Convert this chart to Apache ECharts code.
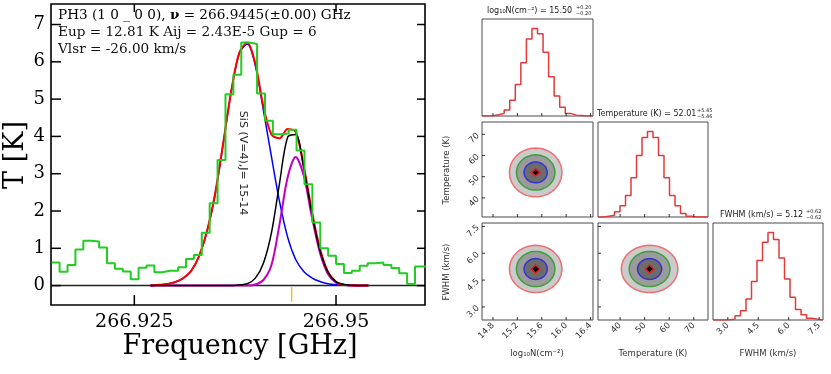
<!DOCTYPE html>
<html>
<head>
<meta charset="utf-8">
<script src="https://cdn.jsdelivr.net/npm/echarts@6/dist/echarts.min.js"></script>
<style>
  html, body { margin: 0; padding: 0; background: #fff; }
  #main { width: 831px; height: 374px; }
</style>
</head>
<body>
<div id="main"></div>
<script>
// ---- spectrum (left panel) ----
var freqRange = [266.91467, 266.96103];
var tempRange = [-0.52, 7.55];
var freqTicks = [266.925, 266.95];
var tempTicks = [0, 1, 2, 3, 4, 5, 6, 7];

// observed channels, left edge of first channel + channel width (GHz)
var specStart = 266.91476;
var specWidth = 0.000979;
var spectrumT = [0.62, 0.37, 0.55, 0.97, 1.20, 1.18, 1.02, 0.60, 0.45, 0.38,
  0.17, 0.48, 0.54, 0.36, 0.40, 0.40, 0.49, 0.71, 0.82, 1.42,
  2.21, 3.37, 5.13, 5.65, 6.52, 6.48, 5.15, 4.42, 4.06, 4.08,
  4.18, 3.62, 2.72, 1.69, 1.00, 0.80, 0.58, 0.34, 0.40, 0.53,
  0.60, 0.62, 0.55, 0.47, 0.33, 0.04, 0.51, 0.51];

// model curves sampled every 1 MHz
var curveFreq = [266.927, 266.928, 266.929, 266.930, 266.931, 266.932, 266.933, 266.934,
  266.935, 266.936, 266.937, 266.938, 266.939, 266.940, 266.941, 266.942, 266.943,
  266.944, 266.945, 266.946, 266.947, 266.948, 266.949, 266.950, 266.951, 266.952,
  266.953, 266.954];
var fitTotal = [0.00, 0.02, 0.04, 0.09, 0.19, 0.38, 0.78, 1.45, 2.45, 3.80, 5.20, 6.24,
  6.52, 5.95, 4.80, 4.05, 3.95, 4.20, 4.12, 3.20, 2.00, 1.00, 0.37, 0.10, 0.02, 0.00,
  0.00, 0.00];
var fitSiS = [0.00, 0.02, 0.04, 0.09, 0.19, 0.38, 0.78, 1.45, 2.42, 3.78, 5.18, 6.22,
  6.48, 5.90, 4.70, 3.45, 2.25, 1.30, 0.70, 0.38, 0.21, 0.11, 0.05, 0.02, 0.01, 0.00,
  0.00, 0.00];
var fitPH3 = [0.00, 0.00, 0.00, 0.00, 0.00, 0.00, 0.00, 0.00, 0.00, 0.00, 0.00, 0.02,
  0.05, 0.20, 0.60, 1.42, 2.75, 3.98, 4.05, 3.15, 1.95, 0.95, 0.36, 0.10, 0.03, 0.01,
  0.00, 0.00];
var fitLine = [0.00, 0.00, 0.00, 0.00, 0.00, 0.00, 0.00, 0.00, 0.00, 0.00, 0.00, 0.00,
  0.00, 0.03, 0.15, 0.55, 1.65, 2.90, 3.45, 2.95, 1.85, 0.89, 0.31, 0.08, 0.02, 0.00,
  0.00, 0.00];
var restFreq = 266.9445;

// ---- corner plot (right panel) ----
var logNRange = [14.62, 16.44];
var tRange = [31, 75.8];
var fwhmRange = [2.27, 7.69];
var logNTicks = [14.8, 15.2, 15.6, 16.0, 16.4];
var tTicks = [40, 50, 60, 70];
var fwhmTicks = [3.0, 4.5, 6.0, 7.5];

var histLogN = [0, 0.3, 1.5, 3, 7, 18, 36, 61, 88, 100, 94, 73, 45, 23, 10, 3, 1, 0.5, 0, 0];
var histT = [0, 1, 2, 6, 13, 25, 46, 72, 93, 100, 93, 72, 46, 25, 13, 4, 1, 0, 0, 0];
var histFWHM = [0, 0, 0.3, 1, 5, 10.5, 24, 44, 68, 89, 100, 92, 71, 47, 26, 12, 6, 2, 1, 0];

var best = { logN: 15.50, T: 52.01, fwhm: 5.12 };
var radLogN = [0.43, 0.315, 0.19, 0.07];
var radT = [11.5, 8.3, 4.9, 1.7];
var radFWHM = [1.32, 0.98, 0.58, 0.22];

var levelFill = ['#cbcbcb', '#9b9b9b', '#6c6c6c', '#000000'];
var levelLine = ['#ee6f6f', '#3f9f3f', '#3434d2', '#e21d1d'];

function pairs(xs, ys) {
  return xs.map(function (x, i) { return [x, ys[i]]; });
}

function stepData(start, width, vals) {
  var d = vals.map(function (v, i) { return [start + i * width, v]; });
  d.push([start + vals.length * width, vals[vals.length - 1]]);
  return d;
}

function histData(counts, range) {
  return stepData(range[0], (range[1] - range[0]) / counts.length, counts);
}

function contour(xi, rx, cx, cy, ry) {
  return {
    type: 'custom', xAxisIndex: xi, yAxisIndex: xi, z: 3,
    data: levelFill.map(function (c, k) { return [cx, cy, rx[k], ry[k], k]; }),
    renderItem: function (params, api) {
      var k = api.value(4);
      var n = k === 3 ? 4 : 60;
      var pts = [];
      for (var j = 0; j < n; j++) {
        var a = 2 * Math.PI * j / n;
        pts.push(api.coord([api.value(0) + api.value(2) * Math.cos(a),
                            api.value(1) + api.value(3) * Math.sin(a)]));
      }
      return {
        type: 'polygon', shape: { points: pts },
        style: { fill: levelFill[k], stroke: levelLine[k], lineWidth: 1.5 }
      };
    }
  };
}

// inward tick marks, placed through the axis scale of the grid
// side: 'bottom' | 'top' | 'left' | 'right'
function ticks(grid, values, other, side, len, color, width) {
  var horiz = side === 'bottom' || side === 'top';
  return {
    type: 'custom', xAxisIndex: grid, yAxisIndex: grid, z: 10, silent: true,
    data: values.map(function (v) { return horiz ? [v, other] : [other, v]; }),
    renderItem: function (params, api) {
      var cs = params.coordSys;
      var p = api.coord([api.value(0), api.value(1)]);
      var s;
      if (side === 'bottom') s = { x1: p[0], y1: cs.y + cs.height, x2: p[0], y2: cs.y + cs.height - len };
      else if (side === 'top') s = { x1: p[0], y1: cs.y, x2: p[0], y2: cs.y + len };
      else if (side === 'left') s = { x1: cs.x, y1: p[1], x2: cs.x + len, y2: p[1] };
      else s = { x1: cs.x + cs.width, y1: p[1], x2: cs.x + cs.width - len, y2: p[1] };
      return { type: 'line', shape: s, style: { stroke: color, lineWidth: width } };
    }
  };
}

var sans = 'DejaVu Sans';
var serif = 'DejaVu Serif';

function cornerAxis(range, tickVals, grid, labels, digits) {
  return {
    type: 'value', gridIndex: grid, min: range[0], max: range[1],
    axisLine: { show: false, onZero: false }, splitLine: { show: false },
    axisTick: { show: false },
    axisLabel: { show: labels, customValues: tickVals, rotate: 45, margin: 4,
      fontFamily: sans, fontSize: 8.5, color: '#333',
      formatter: function (v) { return v.toFixed(digits); } }
  };
}

function histY(grid) {
  return { type: 'value', gridIndex: grid, min: 0, max: 111, show: false };
}

function cornerGrid(left, top, w, h) {
  return { left: left, top: top, width: w, height: h, show: true,
    borderColor: '#4a4a4a', borderWidth: 1,
    outerBoundsMode: 'none', containLabel: false };
}

function histLine(grid, counts, range) {
  return { type: 'line', xAxisIndex: grid, yAxisIndex: grid, step: 'end',
    data: histData(counts, range), symbol: 'none', silent: true,
    lineStyle: { color: '#e03a3a', width: 1.5 } };
}

var chart = echarts.init(document.getElementById('main'), null, { renderer: 'canvas' });

var headFont = { fontFamily: serif, fontSize: 13.6, color: '#111' };
var cTick = '#333';
var mTick = '#000';

var option = {
  animation: false,
  backgroundColor: '#fff',
  grid: [
    { left: 51, top: 4, width: 374, height: 301, show: true, borderColor: '#000',
      borderWidth: 1.6, outerBoundsMode: 'none', containLabel: false },
    cornerGrid(482, 19, 111, 97),
    cornerGrid(482, 122, 111, 95),
    cornerGrid(598, 122, 110, 95),
    cornerGrid(482, 223, 111, 97),
    cornerGrid(598, 223, 110, 97),
    cornerGrid(713, 223, 110, 97)
  ],
  xAxis: [
    { type: 'value', gridIndex: 0, min: freqRange[0], max: freqRange[1],
      axisLine: { show: false, onZero: false }, splitLine: { show: false },
      axisTick: { show: false },
      axisLabel: { customValues: freqTicks, margin: 8, fontFamily: serif, fontSize: 19, color: '#000',
        formatter: function (v) { return String(v); } } },
    cornerAxis(logNRange, logNTicks, 1, false, 1),
    cornerAxis(logNRange, logNTicks, 2, false, 1),
    cornerAxis(tRange, tTicks, 3, false, 0),
    cornerAxis(logNRange, logNTicks, 4, true, 1),
    cornerAxis(tRange, tTicks, 5, true, 0),
    cornerAxis(fwhmRange, fwhmTicks, 6, true, 1)
  ],
  yAxis: [
    { type: 'value', gridIndex: 0, min: tempRange[0], max: tempRange[1],
      axisLine: { show: false, onZero: false }, splitLine: { show: false },
      axisTick: { show: false },
      axisLabel: { customValues: tempTicks, margin: 6, fontFamily: serif, fontSize: 18, color: '#000' } },
    histY(1),
    cornerAxis(tRange, tTicks, 2, true, 0),
    histY(3),
    cornerAxis(fwhmRange, fwhmTicks, 4, true, 1),
    cornerAxis(fwhmRange, fwhmTicks, 5, false, 1),
    histY(6)
  ],
  series: [
    // frame ticks of the spectrum
    ticks(0, freqTicks, 0, 'bottom', 10, mTick, 1.5),
    ticks(0, freqTicks, 0, 'top', 8, mTick, 1.5),
    ticks(0, tempTicks, freqRange[0], 'left', 10, mTick, 1.5),
    ticks(0, tempTicks, freqRange[0], 'right', 8, mTick, 1.5),

    { type: 'line', xAxisIndex: 0, yAxisIndex: 0, data: [[freqRange[0], 0], [freqRange[1], 0]],
      symbol: 'none', silent: true, lineStyle: { color: '#222', width: 1.5 }, z: 1 },
    { type: 'line', xAxisIndex: 0, yAxisIndex: 0, data: [[restFreq, -0.04], [restFreq, -0.43]],
      symbol: 'none', silent: true, lineStyle: { color: '#f0c030', width: 1.5 }, z: 2 },
    { type: 'line', xAxisIndex: 0, yAxisIndex: 0, data: pairs(curveFreq, fitSiS), smooth: 0.3,
      symbol: 'none', silent: true, lineStyle: { color: '#0000ff', width: 1.5 }, z: 3 },
    { type: 'line', xAxisIndex: 0, yAxisIndex: 0, data: pairs(curveFreq, fitLine), smooth: 0.3,
      symbol: 'none', silent: true, lineStyle: { color: '#c000c0', width: 2 }, z: 4 },
    { type: 'line', xAxisIndex: 0, yAxisIndex: 0, data: pairs(curveFreq, fitTotal), smooth: 0.3,
      symbol: 'none', silent: true, lineStyle: { color: '#ff0000', width: 2 }, z: 5 },
    { type: 'line', xAxisIndex: 0, yAxisIndex: 0, data: pairs(curveFreq, fitPH3), smooth: 0.3,
      symbol: 'none', silent: true, lineStyle: { color: '#000000', width: 1.5 }, z: 6 },
    { type: 'line', xAxisIndex: 0, yAxisIndex: 0, data: stepData(specStart, specWidth, spectrumT),
      step: 'end', symbol: 'none', silent: true, lineStyle: { color: '#22cc22', width: 2 }, z: 7 },

    histLine(1, histLogN, logNRange),
    contour(2, radLogN, best.logN, best.T, radT),
    histLine(3, histT, tRange),
    contour(4, radLogN, best.logN, best.fwhm, radFWHM),
    contour(5, radT, best.T, best.fwhm, radFWHM),
    histLine(6, histFWHM, fwhmRange),

    // corner ticks
    ticks(1, logNTicks, 0, 'bottom', 3, cTick, 1),
    ticks(2, logNTicks, best.T, 'bottom', 3, cTick, 1),
    ticks(2, tTicks, best.logN, 'left', 3, cTick, 1),
    ticks(3, tTicks, 0, 'bottom', 3, cTick, 1),
    ticks(4, logNTicks, best.fwhm, 'bottom', 3, cTick, 1),
    ticks(4, fwhmTicks, best.logN, 'left', 3, cTick, 1),
    ticks(5, tTicks, best.fwhm, 'bottom', 3, cTick, 1),
    ticks(5, fwhmTicks, best.T, 'left', 3, cTick, 1),
    ticks(6, fwhmTicks, 0, 'bottom', 3, cTick, 1)
  ],
  graphic: [
    { type: 'text', left: 58, top: 8, style: {
      text: '{a|PH3 (1 0 _ 0 0), }{b|\u03bd}{a| = 266.9445(\u00b10.00) GHz}',
      rich: { a: headFont, b: { fontFamily: serif, fontSize: 13.6, fontWeight: 'bold', color: '#111' } } } },
    { type: 'text', left: 58, top: 25, style: { text: 'Eup = 12.81 K Aij = 2.43E-5 Gup = 6',
      font: '13.6px "DejaVu Serif"', fill: '#111' } },
    { type: 'text', left: 58, top: 42, style: { text: 'Vlsr = -26.00 km/s',
      font: '13.6px "DejaVu Serif"', fill: '#111' } },
    { type: 'text', x: 243, y: 163, rotation: -Math.PI / 2, style: { text: 'SiS (V=4),J= 15-14',
      font: '11px "DejaVu Sans"', fill: '#222', textAlign: 'center', textVerticalAlign: 'middle' } },
    { type: 'text', x: 16, y: 155, rotation: Math.PI / 2, style: { text: 'T [K]',
      font: '27px "DejaVu Serif"', fill: '#000', textAlign: 'center', textVerticalAlign: 'middle' } },
    { type: 'text', x: 240, y: 347, style: { text: 'Frequency [GHz]',
      font: '27px "DejaVu Serif"', fill: '#000', textAlign: 'center', textVerticalAlign: 'middle' } },

    // corner titles
    { type: 'text', x: 487, y: 11, style: { text: 'log\u2081\u2080N(cm\u207b\u00b2) = 15.50',
      font: '8px "DejaVu Sans"', fill: '#222', textVerticalAlign: 'middle' } },
    { type: 'text', x: 576, y: 8, style: { text: '+0.20', font: '5px "DejaVu Sans"', fill: '#222', textVerticalAlign: 'middle' } },
    { type: 'text', x: 576, y: 14, style: { text: '\u22120.20', font: '5px "DejaVu Sans"', fill: '#222', textVerticalAlign: 'middle' } },
    { type: 'text', x: 597, y: 114, style: { text: 'Temperature (K) = 52.01',
      font: '8px "DejaVu Sans"', fill: '#222', textVerticalAlign: 'middle' } },
    { type: 'text', x: 697, y: 111, style: { text: '+5.45', font: '5px "DejaVu Sans"', fill: '#222', textVerticalAlign: 'middle' } },
    { type: 'text', x: 697, y: 117, style: { text: '\u22125.46', font: '5px "DejaVu Sans"', fill: '#222', textVerticalAlign: 'middle' } },
    { type: 'text', x: 720, y: 215, style: { text: 'FWHM (km/s) = 5.12',
      font: '8px "DejaVu Sans"', fill: '#222', textVerticalAlign: 'middle' } },
    { type: 'text', x: 806, y: 212, style: { text: '+0.62', font: '5px "DejaVu Sans"', fill: '#222', textVerticalAlign: 'middle' } },
    { type: 'text', x: 806, y: 218, style: { text: '\u22120.62', font: '5px "DejaVu Sans"', fill: '#222', textVerticalAlign: 'middle' } },

    // corner axis titles
    { type: 'text', x: 537, y: 354, style: { text: 'log\u2081\u2080N(cm\u207b\u00b2)',
      font: '8.5px "DejaVu Sans"', fill: '#333', textAlign: 'center', textVerticalAlign: 'middle' } },
    { type: 'text', x: 653, y: 354, style: { text: 'Temperature (K)',
      font: '8.5px "DejaVu Sans"', fill: '#333', textAlign: 'center', textVerticalAlign: 'middle' } },
    { type: 'text', x: 768, y: 354, style: { text: 'FWHM (km/s)',
      font: '8.5px "DejaVu Sans"', fill: '#333', textAlign: 'center', textVerticalAlign: 'middle' } },
    { type: 'text', x: 447, y: 170, rotation: Math.PI / 2, style: { text: 'Temperature (K)',
      font: '8.5px "DejaVu Sans"', fill: '#333', textAlign: 'center', textVerticalAlign: 'middle' } },
    { type: 'text', x: 447, y: 272, rotation: Math.PI / 2, style: { text: 'FWHM (km/s)',
      font: '8.5px "DejaVu Sans"', fill: '#333', textAlign: 'center', textVerticalAlign: 'middle' } }
  ]
};

chart.setOption(option);
</script>
</body>
</html>
